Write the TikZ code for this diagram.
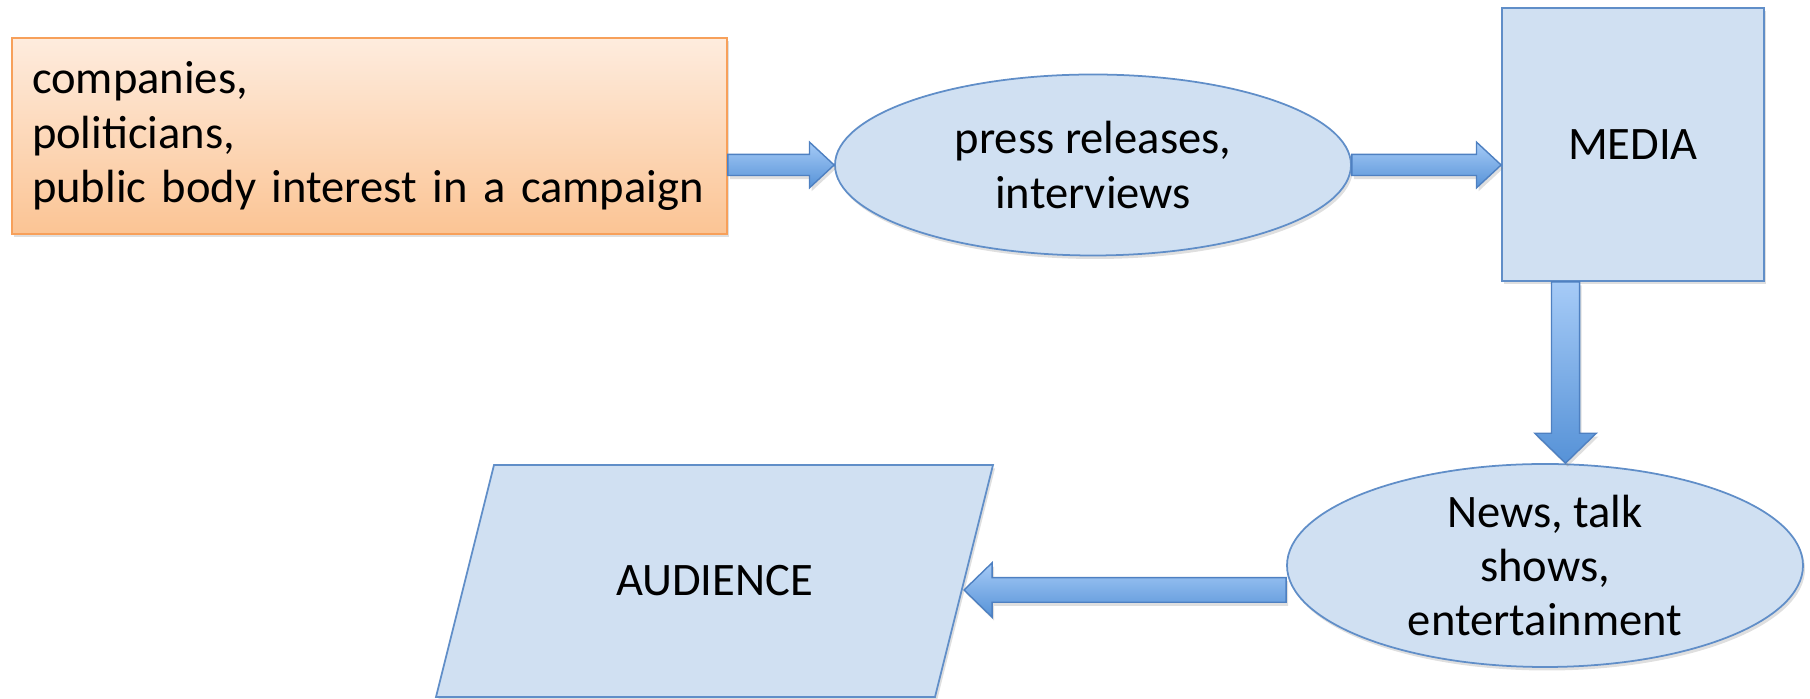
\documentclass[tikz,border=0pt]{standalone}
\usepackage{fontspec}
\setmainfont{Carlito}
\usetikzlibrary{shapes.geometric}
\usetikzlibrary{calc}
\usetikzlibrary{shadows}

\definecolor{boxfill}{RGB}{208,224,242}
\definecolor{boxline}{RGB}{96,142,200}
\definecolor{orangetop}{RGB}{254,236,222}
\definecolor{orangebot}{RGB}{251,196,148}
\definecolor{orangeline}{RGB}{247,160,90}
\definecolor{arrowtop}{RGB}{166,203,247}
\definecolor{arrowbot}{RGB}{86,146,215}
\definecolor{arrowline}{RGB}{78,128,193}

% fat arrow: start, end, half shaft, half head, head length
\newcommand{\fatarrow}[5]{%
  \path [arrowbody] let \p1=(#1), \p2=(#2),
    \n1={atan2(\y2-\y1,\x2-\x1)}, \n2={veclen(\x2-\x1,\y2-\y1)} in
    ([shift={(\p1)},rotate=\n1] 0pt,-#3)
    -- ([shift={(\p1)},rotate=\n1] \n2-#5,-#3)
    -- ([shift={(\p1)},rotate=\n1] \n2-#5,-#4)
    -- ([shift={(\p1)},rotate=\n1] \n2,0pt)
    -- ([shift={(\p1)},rotate=\n1] \n2-#5,#4)
    -- ([shift={(\p1)},rotate=\n1] \n2-#5,#3)
    -- ([shift={(\p1)},rotate=\n1] 0pt,#3) -- cycle;}

\begin{document}
\begin{tikzpicture}[
    font=\fontsize{26.5}{31}\selectfont,
    shade/.style={drop shadow={opacity=0.25,shadow xshift=0.04cm,shadow yshift=-0.07cm}},
    bluebox/.style={draw=boxline, line width=1pt, fill=boxfill, inner sep=0pt, shade},
    orangebox/.style={draw=orangeline, line width=1pt, top color=orangetop,
      bottom color=orangebot, shade},
    arrowbody/.style={draw=arrowline, line width=0.8pt, top color=arrowtop,
      bottom color=arrowbot, shade}]

      \useasboundingbox (0,0) rectangle (36.2,13.98);

      % source of the campaign
      \node [orangebox, minimum width=14.3cm, minimum height=3.92cm,
      inner xsep=0.4cm, text width=13.5cm, align=left] (origin)
      at (7.39, 11.26) {companies,\\politicians,\\\mbox{public body interest in a campaign}};

      % press
      \node [bluebox, ellipse, minimum width=10.32cm, minimum height=3.62cm,
      align=center] (press) at (21.86, 10.68) {press releases,\\interviews};

      % media
      \node [bluebox, rectangle, minimum width=5.24cm, minimum height=5.46cm]
      (media) at (32.66, 11.09) {MEDIA};

      % programmes
      \node [bluebox, ellipse, minimum width=10.32cm, minimum height=4.06cm,
      inner ysep=-0.3cm, align=center] (news) at (30.9, 2.67)
      {News, talk\\shows,\\entertainment};

      % audience
      \draw [bluebox] (9.88, 4.68) coordinate (atl) -- (19.86, 4.68) coordinate (atr)
      -- (18.7, 0.04) coordinate (abr) -- (8.72, 0.04) coordinate (abl) -- cycle;
      \coordinate (audedge) at ($(atr)!0.5!(abr)$);
      \node (audience) at (14.29, 2.36) {AUDIENCE};

      % arrows
      \fatarrow{origin.east |- press.west}{press.west}{6pt}{13pt}{14pt}
      \fatarrow{press.east}{press.east -| media.west}{6pt}{13pt}{14pt}
      \coordinate (down) at ($(media.south)+(-1.35,0)$);
      \fatarrow{down}{down |- news.north}{8pt}{17.5pt}{17pt}
      \coordinate (back) at ($(news.west)+(0,-0.49)$);
      \fatarrow{back}{back -| audedge}{7pt}{15.5pt}{16pt}

\end{tikzpicture}
\end{document}
